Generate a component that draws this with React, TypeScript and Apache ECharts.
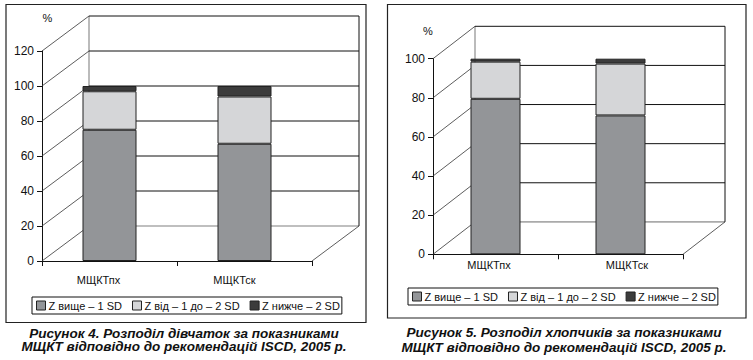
import React, { useEffect, useRef } from "react";
import * as echarts from "echarts";

const categories = ["МЩКТпх", "МЩКТск"];
const seriesNames = ["Z вище – 1 SD", "Z від – 1 до – 2 SD", "Z нижче – 2 SD"];
const girlsAboveMinus1 = [75, 67];
const girlsBetween = [22, 27];
const girlsBelowMinus2 = [3, 6];
const boysAboveMinus1 = [79.5, 71];
const boysBetween = [19, 26.5];
const boysBelowMinus2 = [1.5, 2.5];
const girlsTicks = [0, 20, 40, 60, 80, 100, 120];
const boysTicks = [0, 20, 40, 60, 80, 100];
const caption1 = ["Рисунок 4. Розподіл дівчаток за показниками", "МЩКТ відповідно до рекомендацій ISCD, 2005 р."];
const caption2 = ["Рисунок 5. Розподіл хлопчиків за показниками", "МЩКТ відповідно до рекомендацій ISCD, 2005 р."];
const unitLabel = "%";

const colors = ["#939598", "#d5d6d8", "#3c3c3c"];
const FONT = "'Liberation Sans', Arial, sans-serif";

function frameSeries(axisIdx: number, ticks: number[], dx: number, dy: number) {
  return {
    type: "custom",
    coordinateSystem: "cartesian2d",
    xAxisIndex: axisIdx,
    yAxisIndex: axisIdx,
    silent: true,
    clip: false,
    z: 1,
    encode: { x: 0, y: 1 },
    data: ticks.map((t) => [0, t]),
    renderItem: (params: any, api: any) => {
      const cs = params.coordSys;
      const v = api.value(1);
      const y = api.coord([0, v])[1];
      const x0 = cs.x;
      const x1 = cs.x + cs.width;
      const bx0 = x0 + dx;
      const bx1 = x1 + dx;
      const by = y - dy;
      const children: any[] = [
        { type: "line", shape: { x1: x0, y1: y, x2: bx0, y2: by }, style: { stroke: "#333", lineWidth: 0.8 } },
        {
          type: "line",
          shape: { x1: bx0, y1: by, x2: bx1, y2: by },
          style: { stroke: v === 0 ? "#aaa" : "#111", lineWidth: v === 0 ? 1.6 : 1 },
        },
      ];
      if (v === 0) {
        const topY = cs.y - dy;
        children.push(
          { type: "line", shape: { x1: x1, y1: y, x2: bx1, y2: by }, style: { stroke: "#333", lineWidth: 0.8 } },
          { type: "line", shape: { x1: bx0, y1: topY, x2: bx0, y2: by }, style: { stroke: "#aaa", lineWidth: 1.6 } },
          { type: "line", shape: { x1: bx1, y1: topY, x2: bx1, y2: by }, style: { stroke: "#111", lineWidth: 1 } }
        );
      }
      return { type: "group", children };
    },
  };
}

function barSeries(axisIdx: number, stack: string, values: number[][], width: number) {
  return values.map((vals, i) => ({
    type: "bar",
    name: seriesNames[i],
    xAxisIndex: axisIdx,
    yAxisIndex: axisIdx,
    stack,
    barWidth: width,
    z: 3,
    data: vals,
    itemStyle: { color: colors[i], borderColor: "#222", borderWidth: 1 },
  }));
}

function frontX(gridIndex: number) {
  return {
    type: "category",
    gridIndex,
    data: categories,
    axisLine: { show: true, lineStyle: { color: "#111", width: 1 } },
    axisTick: { show: true, length: 5, lineStyle: { color: "#111" } },
    axisLabel: { show: false },
    splitLine: { show: false },
  };
}
function labelX(gridIndex: number, margin: number) {
  return {
    type: "category",
    gridIndex,
    data: categories,
    axisLine: { show: false },
    axisTick: { show: false },
    axisLabel: { show: true, margin, fontSize: 11, color: "#111", fontFamily: FONT },
  };
}
function frontY(gridIndex: number, max: number) {
  return {
    type: "value",
    gridIndex,
    min: 0,
    max,
    interval: 20,
    axisLine: { show: true, lineStyle: { color: "#111", width: 1 } },
    axisTick: { show: true, length: 5, lineStyle: { color: "#111" } },
    axisLabel: { margin: 8, fontSize: 12, color: "#111", fontFamily: FONT },
    splitLine: { show: false },
  };
}
function hiddenY(gridIndex: number) {
  return { type: "value", gridIndex, show: false, min: 0, max: 100 };
}

function legend(left: number, top: number) {
  return {
    data: seriesNames,
    left,
    top,
    orient: "horizontal",
    borderColor: "#111",
    borderWidth: 1,
    padding: [3, 2, 3, 4],
    itemGap: 10,
    itemWidth: 9,
    itemHeight: 9,
    icon: "rect",
    selectedMode: false,
    itemStyle: { borderColor: "#222", borderWidth: 1 },
    textStyle: { fontSize: 11, color: "#111", fontFamily: FONT, padding: [0, 0, 0, -2] },
  };
}

function captionText(lines: string[], cx: number, yTop: number, lineHeight: number) {
  return {
    type: "text",
    x: cx,
    y: yTop,
    style: {
      text: lines.join("\n"),
      fill: "#111",
      font: `italic bold 13.5px ${FONT}`,
      lineHeight,
      textAlign: "center",
      textVerticalAlign: "top",
    },
  };
}

export default function App() {
  const ref = useRef<HTMLDivElement>(null);
  useEffect(() => {
    if (!ref.current) return;
    const chart = echarts.init(ref.current, undefined, { renderer: "svg" });
    const option: any = {
      animation: false,
      backgroundColor: "#fff",
      grid: [
        { left: 42, top: 51, width: 270, height: 210 },
        { left: 30.5, top: 51, width: 272, height: 210 },
        { left: 433, top: 58.7, width: 250, height: 195.6 },
        { left: 420, top: 58.7, width: 276, height: 195.6 },
      ],
      xAxis: [frontX(0), labelX(1, 13), frontX(2), labelX(3, 5)],
      yAxis: [frontY(0, 120), hiddenY(1), frontY(2, 100), hiddenY(3)],
      legend: [legend(32, 297), legend(408, 288)],
      series: [
        frameSeries(0, girlsTicks, 47, 35),
        ...barSeries(0, "girls", [girlsAboveMinus1, girlsBetween, girlsBelowMinus2], 54),
        frameSeries(2, boysTicks, 42, 32.4),
        ...barSeries(2, "boys", [boysAboveMinus1, boysBetween, boysBelowMinus2], 50),
      ],
      graphic: [
        { type: "rect", shape: { x: 6, y: 4.5, width: 360, height: 318 }, style: { fill: "none", stroke: "#222", lineWidth: 1.2 }, z: 0 },
        { type: "rect", shape: { x: 387.5, y: 4.5, width: 358.5, height: 313.5 }, style: { fill: "none", stroke: "#222", lineWidth: 1.2 }, z: 0 },
        { type: "text", x: 47.5, y: 18, style: { text: unitLabel, font: `11px ${FONT}`, fill: "#111", textAlign: "center", textVerticalAlign: "middle" } },
        { type: "text", x: 428, y: 31, style: { text: unitLabel, font: `11px ${FONT}`, fill: "#111", textAlign: "center", textVerticalAlign: "middle" } },
        captionText(caption1, 184, 326.5, 13.6),
        captionText(caption2, 564, 324.5, 15),
      ],
    };
    chart.setOption(option);
    return () => chart.dispose();
  }, []);
  return <div ref={ref} style={{ position: "fixed", left: 0, top: 0, width: 753, height: 360 }} />;
}
